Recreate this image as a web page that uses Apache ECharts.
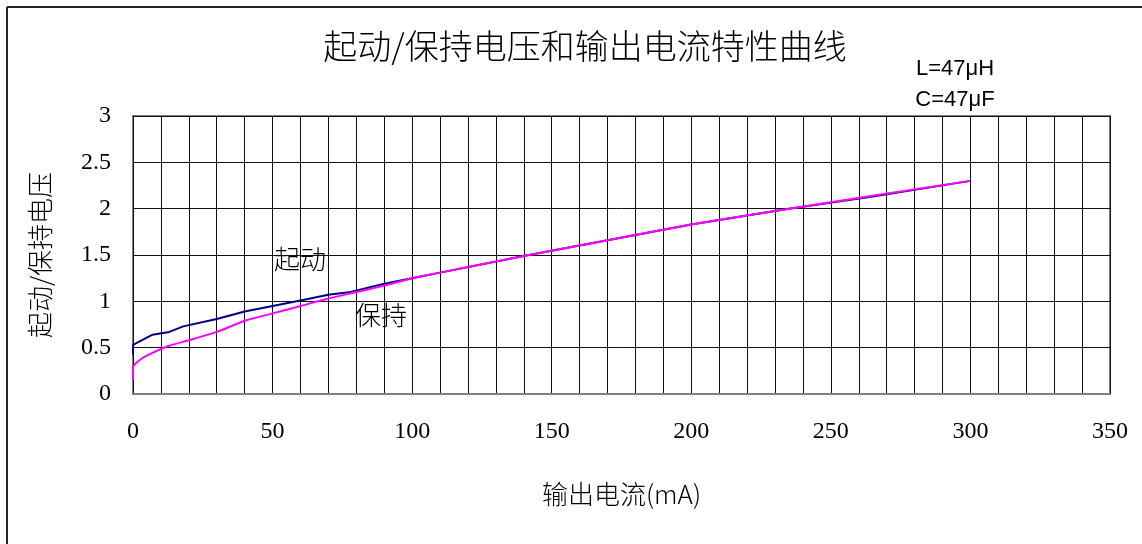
<!DOCTYPE html>
<html>
<head>
<meta charset="utf-8">
<script src="https://cdn.jsdelivr.net/npm/echarts@6/dist/echarts.min.js"></script>
<style>
html,body{margin:0;padding:0;background:#fff;}
#chart{width:1142px;height:544px;}
</style>
</head>
<body>
<div id="chart"></div>
<script>
var titleText = '起动/保持电压和输出电流特性曲线';
var xName = '输出电流(mA)';
var yName = '起动/保持电压';
var paramLabels = ['L=47μH', 'C=47μF'];
var seriesNames = ['起动', '保持'];

var startX = [0, 0, 7, 13, 18, 30, 40, 50, 60, 70, 78, 90, 100, 110, 140, 170, 200, 235, 265, 300];
var startY = [0.42, 0.53, 0.64, 0.67, 0.73, 0.81, 0.89, 0.95, 1.01, 1.07, 1.10, 1.19, 1.25, 1.31, 1.49, 1.66, 1.83, 2.00, 2.13, 2.30];

var holdX = [0, 0, 2.5, 6, 13, 20, 30, 40, 50, 60, 70, 80, 90, 100, 110, 140, 170, 200, 235, 300];
var holdY = [0.15, 0.29, 0.37, 0.43, 0.52, 0.58, 0.67, 0.79, 0.87, 0.95, 1.03, 1.10, 1.17, 1.25, 1.31, 1.49, 1.66, 1.83, 2.00, 2.30];

var xMin = 0, xMax = 350, xStep = 10, xLabelStep = 50;
var yMin = 0, yMax = 3, yStep = 0.5;

function pairs(xs, ys){ return xs.map(function(x,i){ return [x, ys[i]]; }); }

var chart = echarts.init(document.getElementById('chart'), null, {renderer:'canvas'});
var numFont = '"Liberation Serif", "DejaVu Serif", serif';
var cjkFont = '"Noto Sans CJK SC", sans-serif';

chart.setOption({
  animation: false,
  backgroundColor: '#fff',
  grid: {left: 133, right: 32, top: 116, bottom: 150, show: true, borderColor: '#808080', borderWidth: 2, backgroundColor: 'transparent'},
  xAxis: {
    type: 'value', min: xMin, max: xMax, interval: xStep,
    name: xName, nameLocation: 'middle', nameGap: 87,
    nameTextStyle: {fontFamily: cjkFont, fontSize: 26, color: '#000', fontWeight: 300},
    axisLine: {show: true, lineStyle: {color: '#808080', width: 2}},
    axisTick: {show: false},
    axisLabel: {margin: 26, fontFamily: numFont, fontSize: 24, color: '#000',
      formatter: function(v){ return (v % xLabelStep === 0) ? String(v) : ''; }},
    splitLine: {show: true, lineStyle: {color: '#111', width: 1}}
  },
  yAxis: {
    type: 'value', min: yMin, max: yMax, interval: yStep,
    name: yName, nameLocation: 'middle', nameGap: 80,
    nameTextStyle: {fontFamily: cjkFont, fontSize: 26, color: '#000', fontWeight: 300},
    axisLine: {show: false},
    axisTick: {show: false},
    axisLabel: {margin: 22, fontFamily: numFont, fontSize: 24, color: '#000'},
    splitLine: {show: true, lineStyle: {color: '#111', width: 1}}
  },
  series: [
    {name: seriesNames[0], type: 'line', data: pairs(startX, startY), showSymbol: false, smooth: false,
      lineStyle: {color: '#000080', width: 2}, z: 3},
    {name: seriesNames[1], type: 'line', data: pairs(holdX, holdY), showSymbol: false, smooth: 0.2,
      lineStyle: {color: '#FF00FF', width: 2}, z: 4}
  ],
  graphic: [
    {type: 'line', shape: {x1: 7, y1: 7, x2: 1142, y2: 7}, style: {stroke: '#222', lineWidth: 2}},
    {type: 'line', shape: {x1: 7, y1: 7, x2: 7, y2: 544}, style: {stroke: '#222', lineWidth: 2}},
    {type: 'text', x: 585, y: 46, style: {text: titleText, font: '300 34px "Noto Sans CJK SC"', fill: '#000', textAlign: 'center', textVerticalAlign: 'middle'}},
    {type: 'text', x: 955, y: 69, style: {text: paramLabels[0], font: '22px "Liberation Sans"', fill: '#000', textAlign: 'center', textVerticalAlign: 'middle'}},
    {type: 'text', x: 955, y: 100, style: {text: paramLabels[1], font: '22px "Liberation Sans"', fill: '#000', textAlign: 'center', textVerticalAlign: 'middle'}},
    {type: 'text', x: 300, y: 259, style: {text: seriesNames[0], font: '300 26px "Noto Sans CJK SC"', fill: '#000', textAlign: 'center', textVerticalAlign: 'middle'}},
    {type: 'text', x: 381, y: 315, style: {text: seriesNames[1], font: '300 26px "Noto Sans CJK SC"', fill: '#000', textAlign: 'center', textVerticalAlign: 'middle'}}
  ]
});
</script>
</body>
</html>
